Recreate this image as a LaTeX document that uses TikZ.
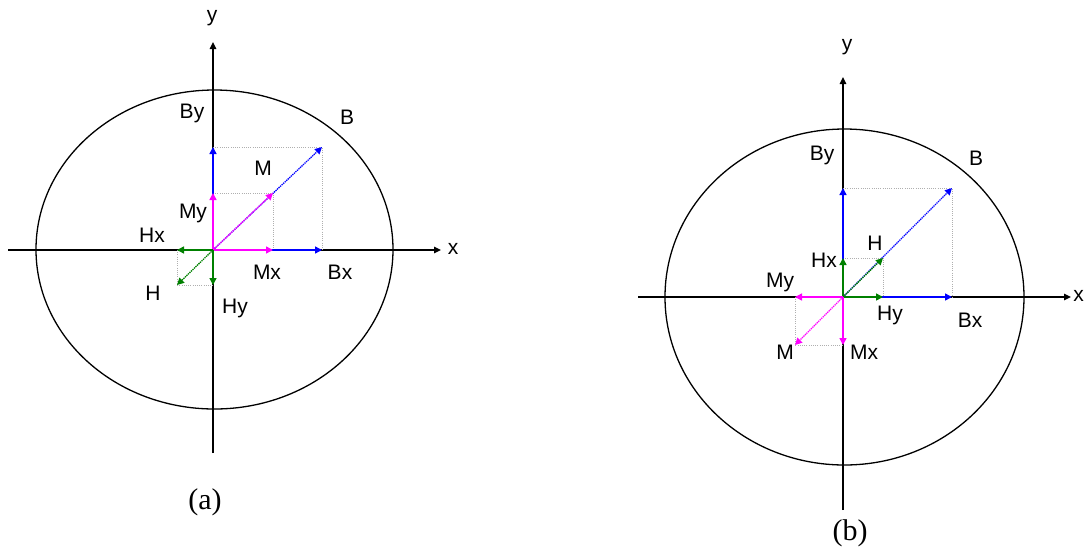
\documentclass[tikz,border=0pt]{standalone}
\usepackage{fontspec}
\newfontfamily\labfont{Liberation Sans}
\newfontfamily\capfont{Liberation Serif}
\usetikzlibrary{arrows.meta}
\definecolor{vblue}{RGB}{0,0,255}
\definecolor{vmag}{RGB}{255,0,255}
\definecolor{vgreen}{RGB}{0,128,0}
\definecolor{dotgray}{RGB}{175,175,175}
\tikzset{
  axis/.style={line width=1.5pt, black, -{Triangle[length=7pt,width=6.5pt]}},
  vec/.style={line width=1.5pt, -{Triangle[length=7pt,width=7pt]}},
  diag/.style={line width=1.3pt, dash pattern=on 1.3pt off 0.8pt, -{Triangle[length=7pt,width=7pt]}},
  proj/.style={line width=1pt, dash pattern=on 1pt off 1.2pt, dotgray},
  lab/.style={font=\labfont\fontsize{21}{21}\selectfont, inner sep=0pt},
  captext/.style={font=\capfont\fontsize{30}{30}\selectfont, inner sep=0pt}
}
\begin{document}
\begin{tikzpicture}[x=1pt,y=-1pt]
\useasboundingbox (0,0) rectangle (1085,550);
% ===== Panel (a) =====
\coordinate (Oa) at (213,250);
\coordinate (xa0) at (8,250);
\coordinate (xa1) at (441,250);
\coordinate (ya0) at (213,453);
\coordinate (ya1) at (213,42);
\draw[line width=1.3pt] (214.5,249.5) ellipse [x radius=178.5pt, y radius=159.5pt];
\draw[axis] (xa0) -- (xa1);
\draw[axis] (ya0) -- (ya1);
\coordinate (Ba) at (322,147);
\coordinate (Bxa) at (322,250);
\coordinate (Bya) at (213,147);
\coordinate (Ma) at (273,193);
\coordinate (Mxa) at (273,250);
\coordinate (Mya) at (213,193);
\coordinate (Ha) at (177,285);
\coordinate (Hxa) at (177,250);
\coordinate (Hya) at (213,285);
\draw[proj] (Bya) -- (Ba) -- (Bxa);
\draw[proj] (Mya) -- (Ma) -- (Mxa);
\draw[proj] (Hxa) -- (Ha) -- (Hya);
\draw[vec, vblue] (Oa) -- (Bxa);
\draw[vec, vblue] (Oa) -- (Bya);
\draw[diag, vblue] (Oa) -- (Ba);
\draw[vec, vmag] (Oa) -- (Mxa);
\draw[vec, vmag] (Oa) -- (Mya);
\draw[diag, vmag] (Oa) -- (Ma);
\draw[vec, vgreen] (Oa) -- (Hxa);
\draw[vec, vgreen] (Oa) -- (Hya);
\draw[diag, vgreen] (Oa) -- (Ha);
\node[lab] (la-y) at (212,18) {y};
\node[lab] (la-x) at (453,249) {x};
\node[lab] (la-By) at (192,113) {By};
\node[lab] (la-B) at (347,117) {B};
\node[lab] (la-M) at (263,168) {M};
\node[lab] (la-My) at (193,213) {My};
\node[lab] (la-Hx) at (152,235) {Hx};
\node[lab] (la-Mx) at (267,272) {Mx};
\node[lab] (la-Bx) at (340,272) {Bx};
\node[lab] (la-H) at (153,293) {H};
\node[lab] (la-Hy) at (235,308) {Hy};
\node[captext] (capa) at (205,502) {(a)};
% ===== Panel (b) =====
\coordinate (Ob) at (843,297);
\coordinate (xb0) at (638,297);
\coordinate (xb1) at (1071,297);
\coordinate (yb0) at (843,510);
\coordinate (yb1) at (843,77);
\draw[line width=1.3pt] (844.5,297) ellipse [x radius=179.5pt, y radius=168pt];
\draw[axis] (xb0) -- (xb1);
\draw[axis] (yb0) -- (yb1);
\coordinate (Bb) at (952,188);
\coordinate (Bxb) at (952,297);
\coordinate (Byb) at (843,188);
\coordinate (Hb) at (883,258);
\coordinate (Hxb) at (843,258);
\coordinate (Hyb) at (883,297);
\coordinate (Mb) at (795,345);
\coordinate (Mxb) at (843,345);
\coordinate (Myb) at (795,297);
\draw[proj] (Byb) -- (Bb) -- (Bxb);
\draw[proj] (Hxb) -- (Hb) -- (Hyb);
\draw[proj] (Myb) -- (Mb) -- (Mxb);
\draw[vec, vblue] (Ob) -- (Bxb);
\draw[vec, vblue] (Ob) -- (Byb);
\draw[diag, vblue] (Ob) -- (Bb);
\draw[vec, vgreen] (Ob) -- (Hxb);
\draw[vec, vgreen] (Ob) -- (Hyb);
\draw[diag, vgreen] (Ob) -- (Hb);
\draw[vec, vmag] (Ob) -- (Mxb);
\draw[vec, vmag] (Ob) -- (Myb);
\draw[diag, vmag] (Ob) -- (Mb);
\node[lab] (lb-y) at (847,47) {y};
\node[lab, anchor=east] (lb-x) at (1084,296) {x};
\node[lab] (lb-By) at (822,155) {By};
\node[lab] (lb-B) at (976,158) {B};
\node[lab] (lb-H) at (875,243) {H};
\node[lab] (lb-Hx) at (824,260) {Hx};
\node[lab] (lb-My) at (780,282) {My};
\node[lab] (lb-Hy) at (890,315) {Hy};
\node[lab] (lb-Bx) at (970,320) {Bx};
\node[lab] (lb-M) at (785,352) {M};
\node[lab] (lb-Mx) at (864,352) {Mx};
\node[captext] (capb) at (850,533) {(b)};
\end{tikzpicture}
\end{document}
